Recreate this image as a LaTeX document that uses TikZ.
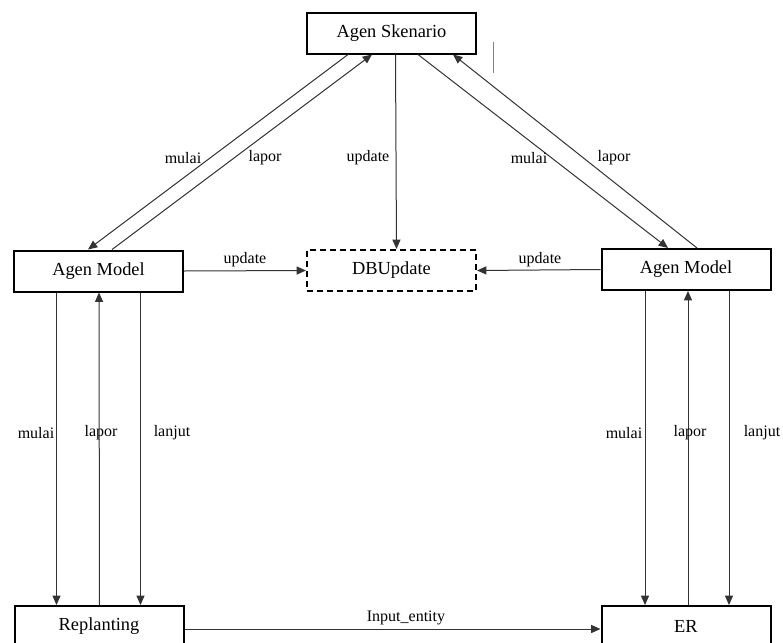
\documentclass[tikz,border=0pt]{standalone}
\usepackage{fontspec}
\setmainfont{Liberation Serif}
\usetikzlibrary{calc,arrows.meta}
\begin{document}
\begin{tikzpicture}[x=0.75pt,y=-0.75pt,
  boxnode/.style={draw=black,line width=1.5pt,minimum width=126.75pt,minimum height=30.75pt,inner sep=0pt,font=\fontsize{13.8}{16}\selectfont},
  dbnode/.style={boxnode,dashed,dash pattern=on 4.5pt off 3pt},
  lbl/.style={inner sep=0pt,font=\fontsize{12}{14}\selectfont},
  arr/.style={draw=black!80,line width=0.75pt,-{Triangle[length=7pt,width=6pt]}},
  ln/.style={draw=black!80,line width=0.75pt}]
\clip (0,0) rectangle (783,643);
\node[boxnode] (as) at (391.5,33) {Agen Skenario};
\node[boxnode] (lm) at (98.5,271) {Agen Model};
\node[dbnode] (db) at (391.5,270.5) {DBUpdate};
\node[boxnode] (rm) at (686,269.5) {Agen Model};
\node[boxnode,minimum height=30pt] (rp) at (99,626) {Replanting};
\node[boxnode,minimum height=30pt] (er) at (686,626) {ER};
% diagonals
\draw[arr] ($(as.south)+(-43.5,0)$) -- ($(lm.north)+(-10.5,0)$);
\draw[arr] ($(lm.north)+(13.5,0)$) -- ($(as.south)+(-19.5,0)$);
\draw[arr] ($(as.south)+(26.5,0)$) -- ($(rm.north)+(-18,0)$);
\draw[arr] ($(rm.north)+(11,0)$) -- ($(as.south)+(61.5,0)$);
\draw[arr] ($(as.south)+(4,0)$) -- ($(db.north)+(5,0)$);
% horizontal updates
\draw[arr] (lm.east) -- (db.west);
\draw[arr] (rm.west) -- (db.east);
% verticals left
\draw[arr] ($(lm.south)+(-42,0)$) -- ($(rp.north)+(-42.5,0)$);
\draw[arr] ($(rp.north)+(0.5,0)$) -- ($(lm.south)+(0.5,0)$);
\draw[arr] ($(lm.south)+(42,0)$) -- ($(rp.north)+(41.5,0)$);
% verticals right
\draw[arr] ($(rm.south)+(-41,0)$) -- ($(er.north)+(-41,0)$);
\draw[arr] ($(er.north)+(2,0)$) -- ($(rm.south)+(2,0)$);
\draw[arr] ($(rm.south)+(43,0)$) -- ($(er.north)+(43,0)$);
% bottom
\draw[arr] ($(rp.east)+(0,3)$) -- ($(er.west)+(0,3)$);
% labels
\node[lbl] (l1) at (183,158) {mulai};
\node[lbl] (l2) at (265,158) {lapor};
\node[lbl] (l3) at (368,158) {update};
\node[lbl] (l4) at (529,158) {mulai};
\node[lbl] (l5) at (614,158) {lapor};
\node[lbl] (l6) at (245,260) {update};
\node[lbl] (l7) at (540,260) {update};
\node[lbl] (l8) at (36,433) {mulai};
\node[lbl] (l9) at (101,433) {lapor};
\node[lbl] (l10) at (172,433) {lanjut};
\node[lbl] (l11) at (624,433) {mulai};
\node[lbl] (l12) at (690,433) {lapor};
\node[lbl] (l13) at (762,433) {lanjut};
\node[lbl] (l14) at (406,618) {Input\_entity};
% stray mark
\draw[draw=black!50,line width=0.6pt] (493,42) -- (493,73);
\end{tikzpicture}
\end{document}
